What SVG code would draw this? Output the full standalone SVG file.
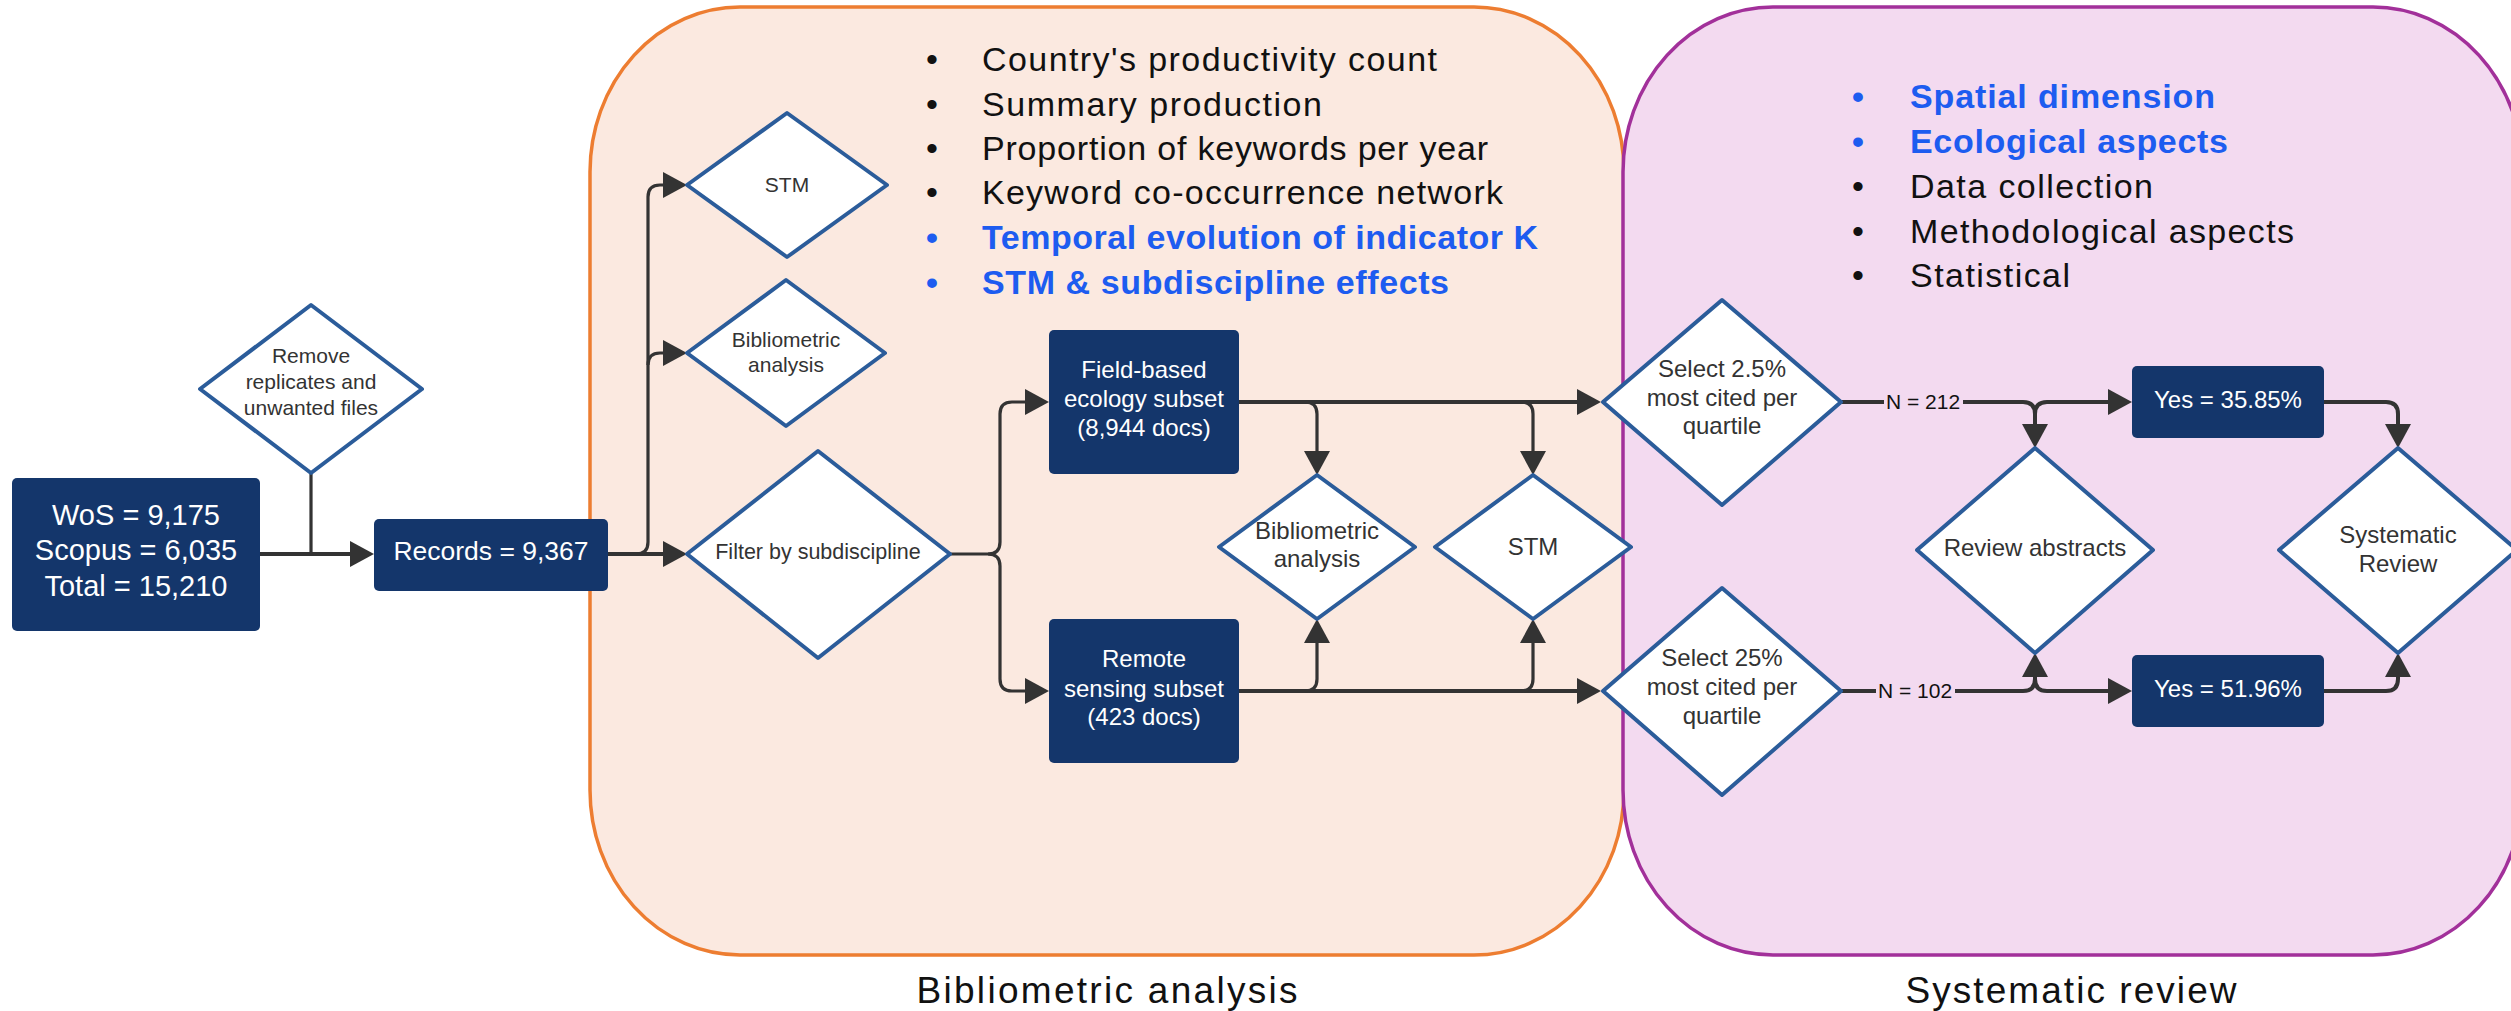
<svg xmlns="http://www.w3.org/2000/svg" width="2511" height="1011" viewBox="0 0 2511 1011">
<defs>
<marker id="ah" markerUnits="userSpaceOnUse" markerWidth="26" markerHeight="28" refX="12" refY="13" orient="auto">
<path d="M0,0 L24,13 L0,26 z" fill="#333333"/>
</marker>
<style>
.bg{fill:#ffffff}
.orange{fill:#FBE9E0;stroke:#ED7D31;stroke-width:3.5}
.purple{fill:#F3DAF0;stroke:#A2309A;stroke-width:3.5}
.box{fill:#14366B}
.dia{fill:#ffffff;stroke:#2B5C9A;stroke-width:4;stroke-linejoin:round}
.bt{font-family:"Liberation Sans",Arial,sans-serif;fill:#ffffff;text-anchor:middle}
.dt{font-family:"Liberation Sans",Arial,sans-serif;fill:#333333;text-anchor:middle}
.lt{font-family:"Liberation Sans",Arial,sans-serif;font-size:34px;fill:#111111}
.blue{fill:#1D5CF0;font-weight:bold}
.cap{font-family:"Liberation Sans",Arial,sans-serif;font-size:37px;fill:#111111;text-anchor:middle}
.ln{fill:none;stroke:#333333;stroke-width:3.2}
.lnw{fill:none;stroke:#333333;stroke-width:4}
.nl{font-family:"Liberation Sans",Arial,sans-serif;font-size:21px;fill:#111111;text-anchor:middle}
</style>
</defs>
<rect class="bg" x="0" y="0" width="2511" height="1011"/>

<g id="container-bibliometric">
<rect class="orange" x="590" y="7" width="1034" height="948" rx="150" ry="165"/>
<text class="cap" x="1107" y="1003" textLength="381" lengthAdjust="spacing">Bibliometric analysis</text>
</g>
<g id="container-systematic">
<rect class="purple" x="1623" y="7" width="900" height="948" rx="150" ry="165"/>
<text class="cap" x="2071" y="1003" textLength="331" lengthAdjust="spacing">Systematic review</text>
</g>

<g id="list-bibliometric" class="lt">
<text x="926" y="71">•</text><text x="982" y="71" textLength="455" lengthAdjust="spacing">Country's productivity count</text>
<text x="926" y="116">•</text><text x="982" y="116" textLength="340" lengthAdjust="spacing">Summary production</text>
<text x="926" y="160">•</text><text x="982" y="160" textLength="506" lengthAdjust="spacing">Proportion of keywords per year</text>
<text x="926" y="204">•</text><text x="982" y="204" textLength="521" lengthAdjust="spacing">Keyword co-occurrence network</text>
<text class="blue" x="926" y="249">•</text><text class="blue" x="982" y="249" textLength="556" lengthAdjust="spacing">Temporal evolution of indicator K</text>
<text class="blue" x="926" y="294">•</text><text class="blue" x="982" y="294" textLength="467" lengthAdjust="spacing">STM &amp; subdiscipline effects</text>
</g>

<g id="list-systematic" class="lt">
<text class="blue" x="1852" y="108">•</text><text class="blue" x="1910" y="108" textLength="305" lengthAdjust="spacing">Spatial dimension</text>
<text class="blue" x="1852" y="153">•</text><text class="blue" x="1910" y="153" textLength="318" lengthAdjust="spacing">Ecological aspects</text>
<text x="1852" y="198">•</text><text x="1910" y="198" textLength="243" lengthAdjust="spacing">Data collection</text>
<text x="1852" y="243">•</text><text x="1910" y="243" textLength="384" lengthAdjust="spacing">Methodological aspects</text>
<text x="1852" y="287">•</text><text x="1910" y="287" textLength="160" lengthAdjust="spacing">Statistical</text>
</g>

<g id="connectors">
<path class="lnw" d="M260,554 H362" marker-end="url(#ah)"/>
<path class="ln" d="M311,473 V554"/>
<path class="lnw" d="M608,554 H675" marker-end="url(#ah)"/>
<path class="ln" d="M636,554 Q648,554 648,542 V197 Q648,185 660,185 H675" marker-end="url(#ah)"/>
<path class="ln" d="M648,365 Q648,353 660,353 H675" marker-end="url(#ah)"/>
<path class="ln" d="M950,554 H988 Q1000,554 1000,542 V414 Q1000,402 1012,402 H1037" marker-end="url(#ah)"/>
<path class="ln" d="M988,554 Q1000,554 1000,566 V679 Q1000,691 1012,691 H1037" marker-end="url(#ah)"/>
<path class="lnw" d="M1239,402 H1589" marker-end="url(#ah)"/>
<path class="ln" d="M1305,402 Q1317,402 1317,414 V463" marker-end="url(#ah)"/>
<path class="ln" d="M1521,402 Q1533,402 1533,414 V463" marker-end="url(#ah)"/>
<path class="lnw" d="M1239,691 H1589" marker-end="url(#ah)"/>
<path class="ln" d="M1305,691 Q1317,691 1317,679 V631" marker-end="url(#ah)"/>
<path class="ln" d="M1521,691 Q1533,691 1533,679 V631" marker-end="url(#ah)"/>
<path class="lnw" d="M1841,402 H1884"/>
<path class="lnw" d="M1963,402 H2023 Q2035,402 2035,414 V436" marker-end="url(#ah)"/>
<path class="lnw" d="M2035,414 Q2035,402 2047,402 H2120" marker-end="url(#ah)"/>
<path class="lnw" d="M2324,402 H2386 Q2398,402 2398,414 V436" marker-end="url(#ah)"/>
<path class="lnw" d="M1841,691 H1876"/>
<path class="lnw" d="M1955,691 H2023 Q2035,691 2035,679 V665" marker-end="url(#ah)"/>
<path class="lnw" d="M2035,679 Q2035,691 2047,691 H2120" marker-end="url(#ah)"/>
<path class="lnw" d="M2324,691 H2386 Q2398,691 2398,679 V665" marker-end="url(#ah)"/>
<text class="nl" x="1923" y="409">N = 212</text>
<text class="nl" x="1915" y="698">N = 102</text>
</g>

<g id="node-sources">
<rect class="box" x="12" y="478" width="248" height="153" rx="5"/>
<text class="bt" font-size="29" x="136" y="525">WoS = 9,175</text>
<text class="bt" font-size="29" x="136" y="560">Scopus = 6,035</text>
<text class="bt" font-size="29" x="136" y="596">Total = 15,210</text>
</g>
<g id="node-remove">
<polygon class="dia" points="200,389 311,305 422,389 311,473"/>
<text class="dt" font-size="21" x="311" y="363">Remove</text>
<text class="dt" font-size="21" x="311" y="389">replicates and</text>
<text class="dt" font-size="21" x="311" y="415">unwanted files</text>
</g>
<g id="node-records">
<rect class="box" x="374" y="519" width="234" height="72" rx="5"/>
<text class="bt" font-size="26.5" x="491" y="560">Records = 9,367</text>
</g>
<g id="node-stm1">
<polygon class="dia" points="687,185 787,113 887,185 787,257"/>
<text class="dt" font-size="21" x="787" y="192">STM</text>
</g>
<g id="node-biblio1">
<polygon class="dia" points="687,353 786,280 885,353 786,426"/>
<text class="dt" font-size="21" x="786" y="347">Bibliometric</text>
<text class="dt" font-size="21" x="786" y="372">analysis</text>
</g>
<g id="node-filter">
<polygon class="dia" points="687,554 818,451 950,554 818,658"/>
<text class="dt" font-size="21.5" x="818" y="559">Filter by subdiscipline</text>
</g>
<g id="node-field">
<rect class="box" x="1049" y="330" width="190" height="144" rx="5"/>
<text class="bt" font-size="24" x="1144" y="378">Field-based</text>
<text class="bt" font-size="24" x="1144" y="407">ecology subset</text>
<text class="bt" font-size="24" x="1144" y="436">(8,944 docs)</text>
</g>
<g id="node-remote">
<rect class="box" x="1049" y="619" width="190" height="144" rx="5"/>
<text class="bt" font-size="24" x="1144" y="667">Remote</text>
<text class="bt" font-size="24" x="1144" y="697">sensing subset</text>
<text class="bt" font-size="24" x="1144" y="725">(423 docs)</text>
</g>
<g id="node-biblio2">
<polygon class="dia" points="1219,547 1317,475 1415,547 1317,619"/>
<text class="dt" font-size="24" x="1317" y="539">Bibliometric</text>
<text class="dt" font-size="24" x="1317" y="567">analysis</text>
</g>
<g id="node-stm2">
<polygon class="dia" points="1435,547 1533,475 1631,547 1533,619"/>
<text class="dt" font-size="24" x="1533" y="555">STM</text>
</g>
<g id="node-select25">
<polygon class="dia" points="1603,402 1722,300 1841,402 1722,505"/>
<text class="dt" font-size="24" x="1722" y="377">Select 2.5%</text>
<text class="dt" font-size="24" x="1722" y="406">most cited per</text>
<text class="dt" font-size="24" x="1722" y="434">quartile</text>
</g>
<g id="node-select250">
<polygon class="dia" points="1603,691 1722,588 1841,691 1722,795"/>
<text class="dt" font-size="24" x="1722" y="666">Select 25%</text>
<text class="dt" font-size="24" x="1722" y="695">most cited per</text>
<text class="dt" font-size="24" x="1722" y="724">quartile</text>
</g>
<g id="node-review">
<polygon class="dia" points="1917,550 2035,448 2153,550 2035,653"/>
<text class="dt" font-size="24" x="2035" y="556">Review abstracts</text>
</g>
<g id="node-yes1">
<rect class="box" x="2132" y="366" width="192" height="72" rx="5"/>
<text class="bt" font-size="24" x="2228" y="408">Yes = 35.85%</text>
</g>
<g id="node-yes2">
<rect class="box" x="2132" y="655" width="192" height="72" rx="5"/>
<text class="bt" font-size="24" x="2228" y="697">Yes = 51.96%</text>
</g>
<g id="node-sysreview">
<polygon class="dia" points="2279,550 2398,448 2517,550 2398,653"/>
<text class="dt" font-size="24" x="2398" y="543">Systematic</text>
<text class="dt" font-size="24" x="2398" y="572">Review</text>
</g>
</svg>
